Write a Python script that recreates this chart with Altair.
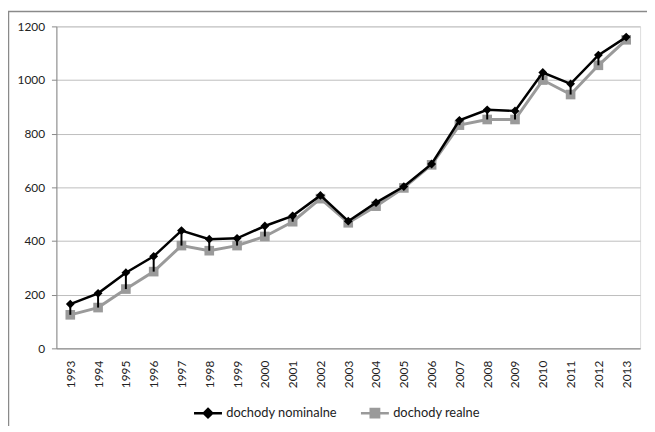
import altair as alt
import pandas as pd

years = [str(y) for y in range(1993, 2014)]
nominal = [165, 205, 282, 343, 439, 407, 410, 456, 494, 570, 474, 543, 603, 687, 850, 889, 885, 1028, 986, 1093, 1160]
real = [125, 152, 221, 286, 383, 364, 383, 417, 472, 558, 468, 530, 598, 684, 832, 853, 853, 1000, 946, 1055, 1150]
series_names = ["dochody nominalne", "dochody realne"]
y_ticks = [0, 200, 400, 600, 800, 1000, 1200]

FONT = "Lato"

wide = pd.DataFrame({"year": years, "nominal": nominal, "real": real})
long = pd.DataFrame({
    "year": years * 2,
    "value": nominal + real,
    "series": [series_names[0]] * len(years) + [series_names[1]] * len(years),
})

xenc = alt.X("year:O", scale=alt.Scale(type="point", padding=0.5),
             axis=alt.Axis(title=None, labelAngle=-90, ticks=False, labelPadding=12,
                           domainColor="#888", labelFont=FONT, labelFontSize=12,
                           labelColor="#222", labelBaseline="middle", labelAlign="right"))
yscale = alt.Scale(domain=[0, 1200], nice=False)
yaxis = alt.Axis(title=None, values=y_ticks, format="d", grid=True, gridColor="#bdbdbd", domainColor="#888",
                 tickColor="#888", tickSize=5, labelPadding=7, labelFont=FONT,
                 labelFontSize=12, labelColor="#222")

real_df = long[long.series == series_names[1]]
nom_df = long[long.series == series_names[0]]

real_line = alt.Chart(real_df).mark_line(color="#9a9a9a", strokeWidth=3).encode(
    x=xenc, y=alt.Y("value:Q", scale=yscale, axis=yaxis))
real_pts = alt.Chart(real_df).mark_point(shape="square", filled=True, color="#9a9a9a", size=95, opacity=1).encode(
    x=xenc, y=alt.Y("value:Q", scale=yscale))
nom_line = alt.Chart(nom_df).mark_line(color="#000000", strokeWidth=2.5).encode(
    x=xenc, y=alt.Y("value:Q", scale=yscale))
nom_pts = alt.Chart(nom_df).mark_point(shape="diamond", filled=True, color="#000000", size=80, opacity=1).encode(
    x=xenc, y=alt.Y("value:Q", scale=yscale))
hilo = alt.Chart(wide).mark_rule(color="#000000", strokeWidth=2).encode(
    x=xenc, y=alt.Y("nominal:Q", scale=yscale), y2="real:Q")

nom_sym = "M-1,0L1,0M0,-0.3L0.3,0L0,0.3L-0.3,0Z"
real_sym = "M-1,0L1,0M-0.3,-0.3L0.3,-0.3L0.3,0.3L-0.3,0.3Z"
leg = alt.Legend(title=None, orient="none", legendX=138, legendY=376, direction="horizontal",
                 symbolSize=800, symbolStrokeWidth=2.5, labelFont=FONT, labelFontSize=13,
                 labelColor="#222", columnPadding=18, labelOffset=3)
col_scale = alt.Scale(domain=series_names, range=["#000000", "#9a9a9a"])
legend_layer = alt.Chart(long).transform_filter("false").mark_point(filled=True, opacity=1).encode(
    x=xenc, y=alt.Y("value:Q", scale=yscale),
    fill=alt.Fill("series:N", scale=col_scale, legend=leg),
    stroke=alt.Stroke("series:N", scale=col_scale, legend=leg),
    shape=alt.Shape("series:N", scale=alt.Scale(domain=series_names, range=[nom_sym, real_sym]), legend=leg),
)

frame_df = pd.DataFrame({"k": [0]})
frame_left = alt.Chart(frame_df).mark_rule(color="#8a8a8a", strokeWidth=1.5).encode(
    x=alt.value(-48.5), y=alt.value(-15), y2=alt.value(420))
frame_top = alt.Chart(frame_df).mark_rule(color="#8a8a8a", strokeWidth=1.5).encode(
    x=alt.value(-49), x2=alt.value(600), y=alt.value(-15))

chart = alt.layer(frame_left, frame_top, real_line, real_pts, nom_line, nom_pts, hilo, legend_layer).properties(
    width=591, height=326,
    autosize=alt.AutoSizeParams(type="none"),
    padding={"left": 49, "top": 16, "right": 7, "bottom": 76},
).configure_view(stroke=None).configure(background="white")

chart.save("out.html", embed_options={"renderer": "svg", "actions": False})
